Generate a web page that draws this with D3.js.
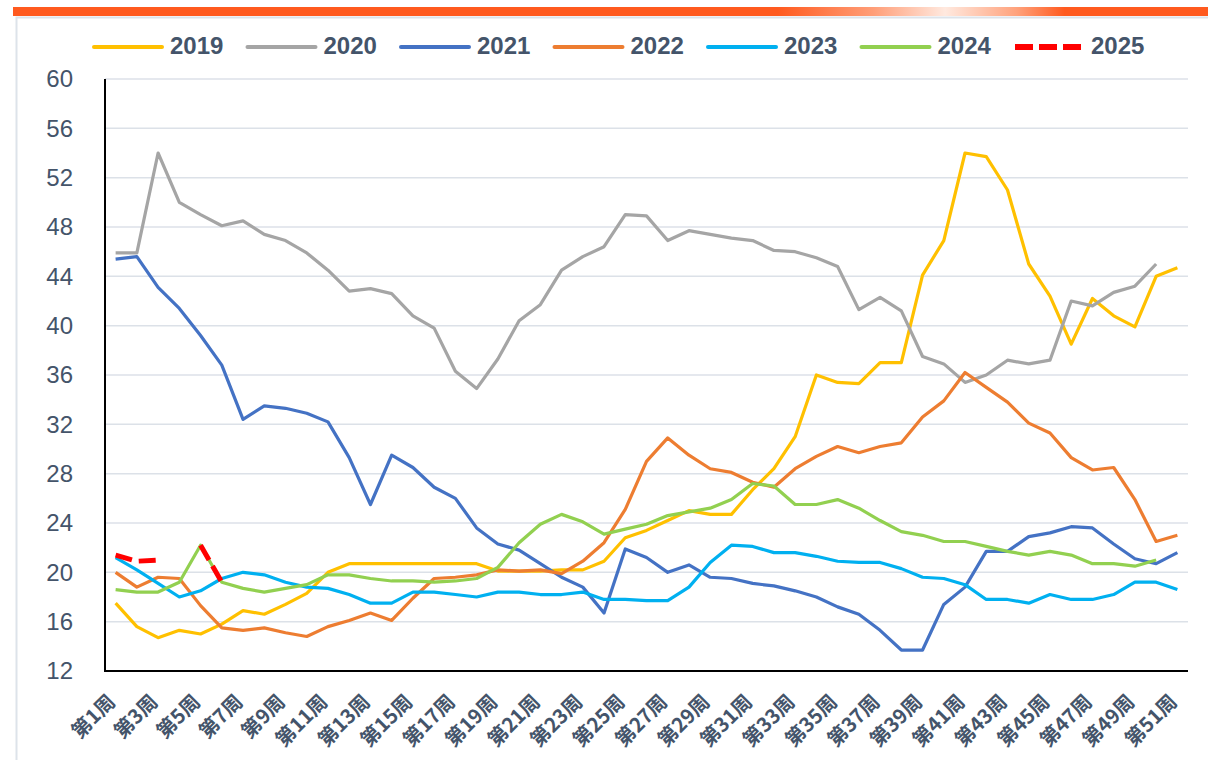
<!DOCTYPE html>
<html>
<head>
<meta charset="utf-8">
<script src="https://cdn.jsdelivr.net/npm/d3@7"></script>
<style>
  body { margin: 0; background: #fff; }
  svg { display: block; }
</style>
</head>
<body>
<svg id="chart" width="1208" height="760"></svg>
<script>
// weekly data, 第1周 .. 第51周
const weeks = d3.range(1, 52).map(i => `第${i}周`);
const yTicks = [12, 16, 20, 24, 28, 32, 36, 40, 44, 48, 52, 56, 60];

const s2019 = [17.5, 15.6, 14.7, 15.3, 15.0, 15.8, 16.9, 16.6, 17.4, 18.3, 20.0, 20.7, 20.7, 20.7, 20.7, 20.7, 20.7, 20.7, 20.1, 20.1,
  20.1, 20.2, 20.2, 20.9, 22.8, 23.4, 24.2, 25.0, 24.7, 24.7, 26.7, 28.4, 31.0, 36.0, 35.4, 35.3, 37.0, 37.0, 44.1, 46.9,
  54.0, 53.7, 51.0, 45.0, 42.4, 38.5, 42.2, 40.8, 39.9, 44.0, 44.7];
const s2020 = [45.9, 45.9, 54.0, 50.0, 49.0, 48.1, 48.5, 47.4, 46.9, 45.9, 44.5, 42.8, 43.0, 42.6, 40.8, 39.8, 36.3, 34.9, 37.3, 40.4,
  41.7, 44.5, 45.6, 46.4, 49.0, 48.9, 46.9, 47.7, 47.4, 47.1, 46.9, 46.1, 46.0, 45.5, 44.8, 41.3, 42.3, 41.2, 37.5, 36.9,
  35.4, 36.0, 37.2, 36.9, 37.2, 42.0, 41.6, 42.7, 43.2, 45.0, null];
const s2021 = [45.4, 45.6, 43.1, 41.4, 39.2, 36.8, 32.4, 33.5, 33.3, 32.9, 32.2, 29.3, 25.5, 29.5, 28.5, 26.9, 26.0, 23.6, 22.3, 21.8,
  20.7, 19.6, 18.8, 16.7, 21.9, 21.2, 20.0, 20.6, 19.6, 19.5, 19.1, 18.9, 18.5, 18.0, 17.2, 16.6, 15.3, 13.7, 13.7, 17.4,
  18.8, 21.7, 21.7, 22.9, 23.2, 23.7, 23.6, 22.3, 21.1, 20.7, 21.6];
const s2022 = [20.0, 18.8, 19.6, 19.5, 17.3, 15.5, 15.3, 15.5, 15.1, 14.8, 15.6, 16.1, 16.7, 16.1, 17.9, 19.5, 19.6, 19.8, 20.2, 20.1,
  20.2, 19.9, 20.9, 22.4, 25.1, 29.0, 30.9, 29.5, 28.4, 28.1, 27.3, 26.9, 28.4, 29.4, 30.2, 29.7, 30.2, 30.5, 32.6, 33.9,
  36.2, 35.0, 33.8, 32.1, 31.3, 29.3, 28.3, 28.5, 25.9, 22.5, 23.0];
const s2023 = [21.2, 20.2, 19.1, 18.0, 18.5, 19.5, 20.0, 19.8, 19.2, 18.8, 18.7, 18.2, 17.5, 17.5, 18.4, 18.4, 18.2, 18.0, 18.4, 18.4,
  18.2, 18.2, 18.4, 17.8, 17.8, 17.7, 17.7, 18.8, 20.8, 22.2, 22.1, 21.6, 21.6, 21.3, 20.9, 20.8, 20.8, 20.3, 19.6, 19.5,
  19.0, 17.8, 17.8, 17.5, 18.2, 17.8, 17.8, 18.2, 19.2, 19.2, 18.6];
const s2024 = [18.6, 18.4, 18.4, 19.2, 22.2, 19.2, 18.7, 18.4, 18.7, 19.0, 19.8, 19.8, 19.5, 19.3, 19.3, 19.2, 19.3, 19.5, 20.4, 22.4,
  23.9, 24.7, 24.1, 23.1, 23.5, 23.9, 24.6, 24.9, 25.2, 25.9, 27.2, 27.0, 25.5, 25.5, 25.9, 25.2, 24.2, 23.3, 23.0, 22.5,
  22.5, 22.1, 21.7, 21.4, 21.7, 21.4, 20.7, 20.7, 20.5, 21.0, null];
const s2025 = [21.4, 20.9, 21.0, null, 22.2, 19.2];

const series = [
  {name: "2019", values: s2019, color: "#FFC000"},
  {name: "2020", values: s2020, color: "#A5A5A5"},
  {name: "2021", values: s2021, color: "#4472C4"},
  {name: "2022", values: s2022, color: "#ED7D31"},
  {name: "2023", values: s2023, color: "#00B0F0"},
  {name: "2024", values: s2024, color: "#92D050"},
  {name: "2025", values: s2025, color: "#FF0000", dash: "17,7"}
];

const svg = d3.select("#chart");
const textColor = "#44546A";
const margin = {top: 79, right: 20, bottom: 89, left: 105};
const W = 1208, H = 760;

// top banner bar with faded section
const grad = svg.append("defs").append("linearGradient").attr("id", "bar");
[[0, "#FF5A1F"], [0.64, "#FF5A1F"], [0.72, "#FF9E78"], [0.78, "#FFE9DF"], [0.84, "#FFA27C"], [0.88, "#FF5A1F"], [1, "#FF5A1F"]]
  .forEach(([o, c]) => grad.append("stop").attr("offset", o).attr("stop-color", c));
svg.append("rect").attr("x", 13).attr("y", 7).attr("width", W - 13).attr("height", 9).attr("fill", "url(#bar)");

// light frame
svg.append("path")
  .attr("d", `M16.5,${H} V17.5 H${W}`)
  .attr("fill", "none").attr("stroke", "#DDE3EA").attr("stroke-width", 2);

const x = d3.scaleBand().domain(weeks).range([margin.left, W - margin.right]);
const y = d3.scaleLinear().domain([12, 60]).range([H - margin.bottom, margin.top]);

// gridlines
svg.append("g")
  .selectAll("line")
  .data(yTicks.filter(t => t > 12))
  .join("line")
  .attr("x1", margin.left).attr("x2", W - margin.right)
  .attr("y1", d => y(d)).attr("y2", d => y(d))
  .attr("stroke", "#DCE1E8").attr("stroke-width", 1.5);

// y labels
svg.append("g")
  .selectAll("text")
  .data(yTicks)
  .join("text")
  .attr("x", 73).attr("y", d => y(d)).attr("dy", "0.35em")
  .attr("text-anchor", "end")
  .attr("font-family", "Liberation Sans, Arial, sans-serif")
  .attr("font-size", 24)
  .attr("fill", textColor)
  .text(d => d);

// x labels, every second week
const xAxis = svg.append("g")
  .attr("transform", `translate(0,${H - margin.bottom})`)
  .call(d3.axisBottom(x).tickValues(weeks.filter((d, i) => i % 2 === 0)).tickSize(0));
xAxis.select(".domain").remove();
xAxis.selectAll("text")
  .attr("transform", "translate(1,32) rotate(-45)")
  .attr("x", 0).attr("y", 0).attr("dy", 0)
  .attr("text-anchor", "end")
  .attr("font-family", "Noto Sans CJK SC, sans-serif")
  .attr("font-weight", "bold")
  .attr("font-size", 20)
  .attr("fill", textColor);

// axis lines
svg.append("path")
  .attr("d", `M${margin.left},${margin.top} V${H - margin.bottom} H${W - margin.right}`)
  .attr("fill", "none").attr("stroke", "#000").attr("stroke-width", 2);

// lines
const line = d3.line()
  .defined(d => d != null)
  .x((d, i) => x(weeks[i]) + x.bandwidth() / 2)
  .y(d => y(d));

svg.append("g")
  .selectAll("path")
  .data(series)
  .join("path")
  .attr("d", d => line(d.values))
  .attr("fill", "none")
  .attr("stroke", d => d.color)
  .attr("stroke-width", d => d.dash ? 5 : 3.2)
  .attr("stroke-dasharray", d => d.dash || null)
  .attr("stroke-linejoin", "round");

// legend
const legend = svg.append("g")
  .selectAll("g")
  .data(series)
  .join("g")
  .attr("transform", (d, i) => `translate(${94 + i * 153.5},47)`);
legend.append("line")
  .attr("x1", 0).attr("x2", 68)
  .attr("stroke", d => d.color)
  .attr("stroke-width", d => d.dash ? 6 : 4)
  .attr("stroke-linecap", d => d.dash ? "butt" : "round")
  .attr("stroke-dasharray", d => d.dash ? "18,6" : null);
legend.append("text")
  .attr("x", 76).attr("y", 7)
  .attr("font-family", "Liberation Sans, Arial, sans-serif")
  .attr("font-weight", "bold")
  .attr("font-size", 24)
  .attr("fill", textColor)
  .text(d => d.name);
</script>
</body>
</html>
